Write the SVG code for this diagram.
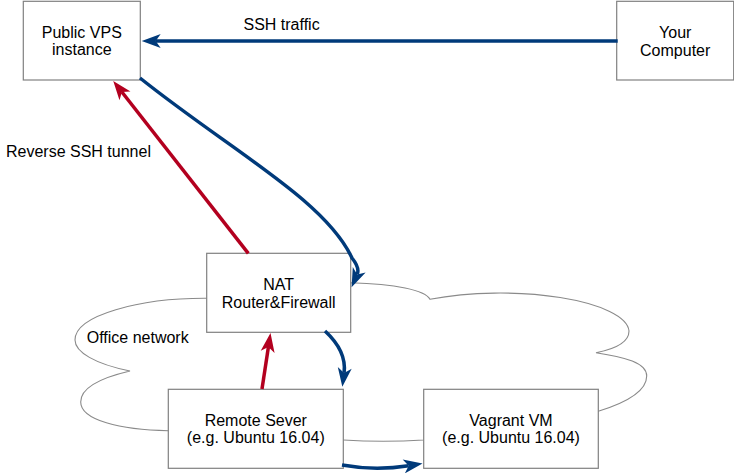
<svg xmlns="http://www.w3.org/2000/svg" width="734" height="473" viewBox="0 0 734 473">
<style>
.box{fill:#fff;stroke:#808080;stroke-width:1.2}
.cloud{fill:#fff;stroke:#8a8a8a;stroke-width:1.1}
.t{font-family:"Liberation Sans",Arial,Helvetica,sans-serif;font-size:16px;fill:#000}
.c{text-anchor:middle}
.blue{fill:none;stroke:#003a7a;stroke-width:3.5}
.red{fill:none;stroke:#b3001f;stroke-width:3.5}
</style>
<defs>
<marker id="hb" viewBox="-6 -8 22 16" markerWidth="22" markerHeight="16" refX="0" refY="0" orient="auto" markerUnits="userSpaceOnUse"><path d="M14,0 L-5,-7 L0,0 L-5,7 Z" fill="#003a7a"/></marker>
<marker id="hr" viewBox="-6 -8 22 16" markerWidth="22" markerHeight="16" refX="0" refY="0" orient="auto" markerUnits="userSpaceOnUse"><path d="M14,0 L-5,-7 L0,0 L-5,7 Z" fill="#b3001f"/></marker>
</defs>
<g id="office-network">
<path class="cloud" d="M206.7,298.3 L350.7,282.7 C395,284 425,290 430,299.3 A129,39 0 0 1 629,331 C629,342 615,349 596,352.7 C625,357 646.7,363 646.7,376 C646.7,392 625,403 598.3,411.3 L423.7,440 Q383,442.5 343.3,440 L168.3,430.7 C120,430 80.7,420 80.7,402 C80.7,388 100,378 130,371 C95,364 75,352 75,340 C75,315 140,298 206.7,298.3 Z"/>
<text class="t" x="86.7" y="343.3">Office network</text>
</g>
<g id="vps">
<rect class="box" x="23.3" y="1.3" width="117" height="78.7"/>
<text class="t c" x="81.8" y="37.8">Public VPS</text>
<text class="t c" x="81.8" y="55.3">instance</text>
</g>
<g id="your-computer">
<rect class="box" x="616.7" y="1.3" width="117" height="78.7"/>
<text class="t c" x="675.2" y="38">Your</text>
<text class="t c" x="675.2" y="55.5">Computer</text>
</g>
<g id="nat">
<rect class="box" x="206.7" y="253.3" width="144" height="79"/>
<text class="t c" x="278.7" y="290">NAT</text>
<text class="t c" x="278.7" y="307.5">Router&amp;Firewall</text>
</g>
<g id="remote-server">
<rect class="box" x="168.3" y="389.3" width="175" height="79"/>
<text class="t c" x="255.8" y="425.8">Remote Sever</text>
<text class="t c" x="255.8" y="443.3">(e.g. Ubuntu 16.04)</text>
</g>
<g id="vagrant-vm">
<rect class="box" x="423.7" y="389.3" width="174.6" height="79"/>
<text class="t c" x="511" y="425.8">Vagrant VM</text>
<text class="t c" x="511" y="443.3">(e.g. Ubuntu 16.04)</text>
</g>
<g id="connectors">
<path class="blue" d="M617.7,41 L155.7,41" marker-end="url(#hb)"/>
<text class="t" x="243.5" y="29.5">SSH traffic</text>
<path class="red" d="M248.3,253.3 L121.9,92" marker-end="url(#hr)"/>
<text class="t" x="6" y="156.7">Reverse SSH tunnel</text>
<path class="blue" d="M140,78 C230,150 325,200 352,258 Q360,268 357.2,274.4" marker-end="url(#hb)"/>
<path class="red" d="M262,389 L268.4,346.9" marker-end="url(#hr)"/>
<path class="blue" d="M325,331 C338,343 346,358 344.1,372.9" marker-end="url(#hb)"/>
<path class="blue" d="M342,465 Q375,471 408.7,465.7" marker-end="url(#hb)"/>
</g>
</svg>
